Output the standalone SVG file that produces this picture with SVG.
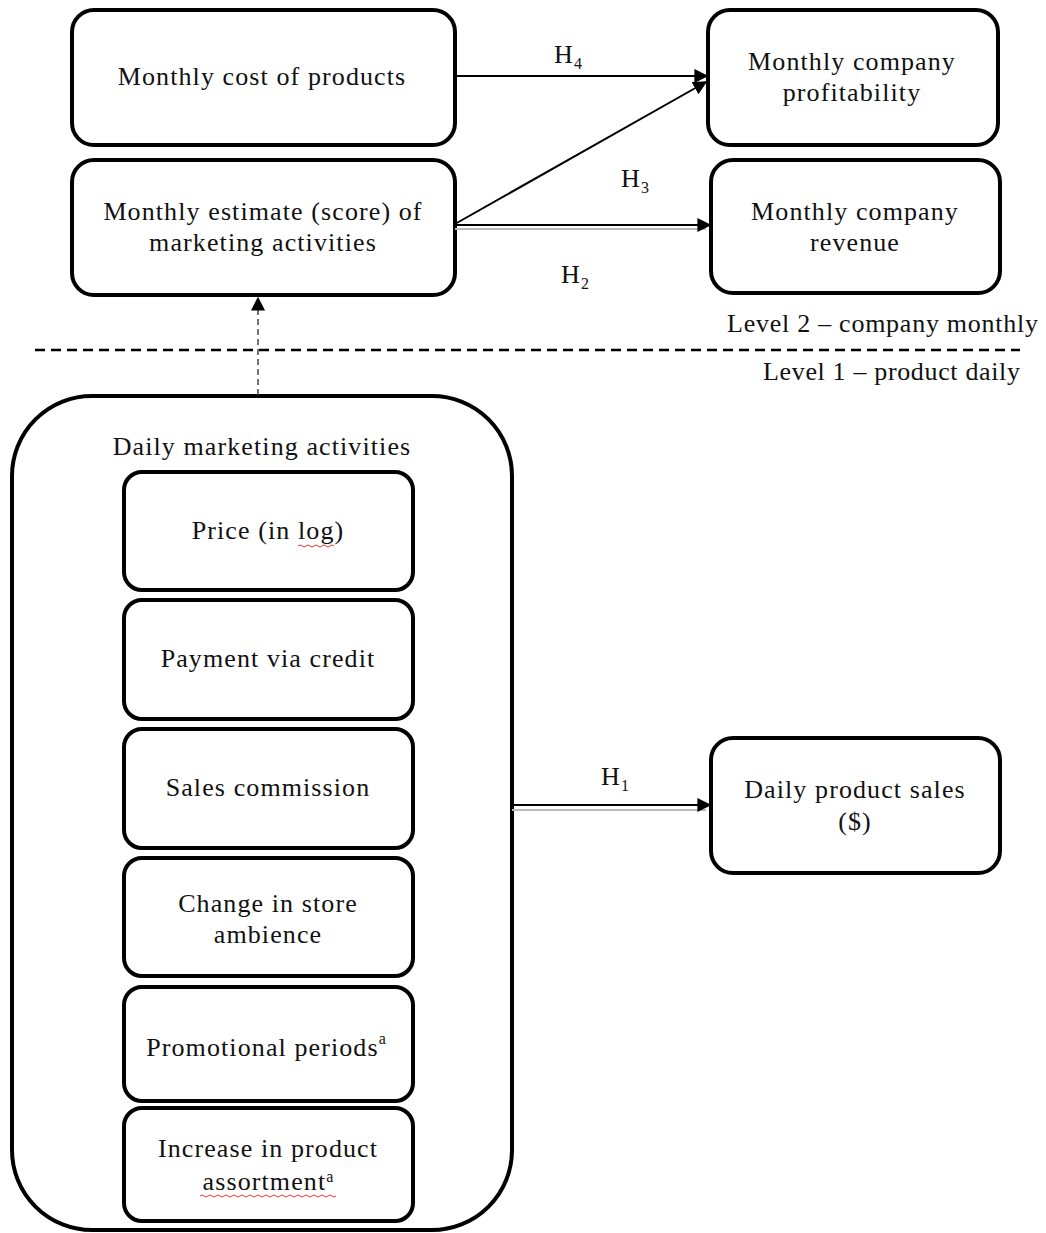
<svg xmlns="http://www.w3.org/2000/svg" width="1046" height="1233" viewBox="0 0 1046 1233">
<style>
.box{fill:#fff;stroke:#000;stroke-width:4}
.t{font-family:"Liberation Serif","Times New Roman",serif;font-size:26px;letter-spacing:1.1px;fill:#111;text-anchor:middle}
.h{font-family:"Liberation Serif","Times New Roman",serif;font-size:26px;letter-spacing:1.1px;fill:#111}
.lv{font-family:"Liberation Serif","Times New Roman",serif;font-size:26px;fill:#111}
.sub{font-size:16px;letter-spacing:0}
.ln{stroke:#000;stroke-width:2;fill:none}
.gr{stroke:#bbb;stroke-width:2;fill:none}
.sq{stroke:#e33;stroke-width:1;fill:none}
</style>
<defs>
<marker id="ah" viewBox="0 0 10 10" refX="9" refY="5" markerWidth="14" markerHeight="14" markerUnits="userSpaceOnUse" orient="auto">
<path d="M0,0 L10,5 L0,10 z" fill="#000"/>
</marker>
</defs>
<rect width="1046" height="1233" fill="#fff"/>
<g id="n_cost"><rect class="box" x="72" y="10" width="383" height="135" rx="22"/><text class="t" x="262" y="85">Monthly cost of products</text></g>
<g id="n_estimate"><rect class="box" x="72" y="160" width="383" height="135" rx="22"/><text class="t" x="263" y="220">Monthly estimate (score) of</text><text class="t" x="263" y="251">marketing activities</text></g>
<g id="n_profit"><rect class="box" x="708" y="10" width="290" height="135" rx="22"/><text class="t" x="852" y="70">Monthly company</text><text class="t" x="852" y="101">profitability</text></g>
<g id="n_revenue"><rect class="box" x="711" y="160" width="289" height="133" rx="22"/><text class="t" x="855" y="220">Monthly company</text><text class="t" x="855" y="251">revenue</text></g>
<g id="n_sales"><rect class="box" x="711" y="738" width="289" height="135" rx="22"/><text class="t" x="855" y="798">Daily product sales</text><text class="t" x="855" y="830">($)</text></g>
<g id="n_daily"><rect class="box" x="12" y="396" width="500" height="834" rx="80"/><text class="t" x="262" y="455">Daily marketing activities</text></g>
<g id="n_price"><rect class="box" x="124" y="472" width="289" height="118" rx="18"/><text class="t" x="268" y="539">Price (in log)</text><path class="sq" d="M298,546 q2,-2 4,0 t4,0 t4,0 t4,0 t4,0 t4,0 t4,0 t4,0 t4,0"/></g>
<g id="n_credit"><rect class="box" x="124" y="600" width="289" height="119" rx="18"/><text class="t" x="268" y="667">Payment via credit</text></g>
<g id="n_commission"><rect class="box" x="124" y="729" width="289" height="119" rx="18"/><text class="t" x="268" y="796">Sales commission</text></g>
<g id="n_ambience"><rect class="box" x="124" y="858" width="289" height="118" rx="18"/><text class="t" x="268" y="912">Change in store</text><text class="t" x="268" y="943">ambience</text></g>
<g id="n_promo"><rect class="box" x="124" y="987" width="289" height="114" rx="18"/><text class="t" x="266" y="1056">Promotional periods<tspan class="sub" dy="-12">a</tspan></text></g>
<g id="n_assort"><rect class="box" x="124" y="1108" width="289" height="113" rx="18"/><text class="t" x="268" y="1157">Increase in product</text><text class="t" x="268" y="1190">assortment<tspan class="sub" dy="-8">a</tspan></text><path class="sq" d="M200,1196 q2,-2 4,0 t4,0 t4,0 t4,0 t4,0 t4,0 t4,0 t4,0 t4,0 t4,0 t4,0 t4,0 t4,0 t4,0 t4,0 t4,0 t4,0 t4,0 t4,0 t4,0 t4,0 t4,0 t4,0 t4,0 t4,0 t4,0 t4,0 t4,0 t4,0 t4,0 t4,0 t4,0 t4,0 t4,0"/></g>
<g id="connectors">
<line class="ln" x1="455" y1="76" x2="707" y2="76" marker-end="url(#ah)"/>
<line class="ln" x1="455" y1="224" x2="706" y2="82" marker-end="url(#ah)"/>
<line class="gr" x1="455" y1="229" x2="706" y2="229"/>
<line class="ln" x1="455" y1="225" x2="710" y2="225" marker-end="url(#ah)"/>
<line class="gr" x1="512" y1="810" x2="706" y2="810"/>
<line class="ln" x1="512" y1="805" x2="710" y2="805" marker-end="url(#ah)"/>
<line stroke="#444" stroke-width="1.5" stroke-dasharray="6,4" x1="258" y1="395" x2="258" y2="298" marker-end="url(#ah)"/>
<line stroke="#000" stroke-width="2.5" stroke-dasharray="10,6" x1="35" y1="350" x2="1020" y2="350"/>
</g>
<g id="labels">
<text class="h" x="554" y="63">H<tspan class="sub" dy="6">4</tspan></text>
<text class="h" x="621" y="187">H<tspan class="sub" dy="6">3</tspan></text>
<text class="h" x="561" y="283">H<tspan class="sub" dy="6">2</tspan></text>
<text class="h" x="601" y="785">H<tspan class="sub" dy="6">1</tspan></text>
<text class="lv" x="727" y="332" textLength="311" lengthAdjust="spacing">Level 2 – company monthly</text>
<text class="lv" x="763" y="380" textLength="257" lengthAdjust="spacing">Level 1 – product daily</text>
</g>
</svg>
